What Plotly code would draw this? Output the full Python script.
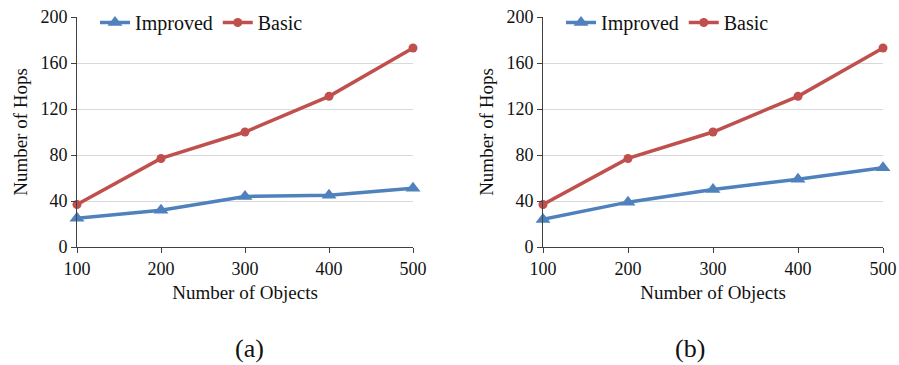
import plotly.graph_objects as go

objects = [100, 200, 300, 400, 500]
improved_a = [25, 32, 44, 45, 51]
basic_a = [37, 77, 100, 131, 173]
improved_b = [24, 39, 50, 59, 69]
basic_b = [37, 77, 100, 131, 173]
y_ticks = [0, 40, 80, 120, 160, 200]
panel_labels = ["(a)", "(b)"]

BLUE = "#4F81BD"
RED = "#C0504D"
FONT = "Liberation Serif, Times New Roman, serif"
TXT = "#111111"

fig = go.Figure()

panels = [
    (improved_a, basic_a, "x", "y", "legend"),
    (improved_b, basic_b, "x2", "y2", "legend2"),
]
for imp, bas, xa, ya, lg in panels:
    fig.add_trace(go.Scatter(x=objects, y=imp, mode="lines+markers", name="Improved",
                             line=dict(color=BLUE, width=3.5),
                             marker=dict(symbol="triangle-up", size=13, color=BLUE),
                             xaxis=xa, yaxis=ya, legend=lg, cliponaxis=False))
    fig.add_trace(go.Scatter(x=objects, y=bas, mode="lines+markers", name="Basic",
                             line=dict(color=RED, width=3.5),
                             marker=dict(symbol="circle", size=9, color=RED),
                             xaxis=xa, yaxis=ya, legend=lg, cliponaxis=False))

H = 365.0
W = 899.0
dom_y = [(H - 247) / H, (H - 17) / H]
xdoms = [[77 / W, 413 / W], [543 / W, 883 / W]]
label_x = [233 / W, 707 / W]

axis_common_x = dict(range=[100, 500], tickvals=objects, showgrid=False, showline=True,
                     linecolor="#404040", linewidth=1, ticks="outside", ticklen=5,
                     tickcolor="#404040", tickfont=dict(family=FONT, size=18, color=TXT),
                     title=dict(text="Number of Objects", font=dict(family=FONT, size=19, color=TXT),
                                standoff=8),
                     zeroline=False, fixedrange=True, automargin=False)
axis_common_y = dict(range=[0, 200], tickvals=y_ticks, showgrid=True, gridcolor="#D9D9D9",
                     showline=True, linecolor="#404040", linewidth=1, ticks="outside",
                     ticklen=5, tickcolor="#404040",
                     tickfont=dict(family=FONT, size=18, color=TXT),
                     title=dict(text="Number of Hops", font=dict(family=FONT, size=19, color=TXT),
                                standoff=7),
                     zeroline=False, fixedrange=True, automargin=False)

fig.update_layout(
    width=899, height=365,
    margin=dict(l=0, r=0, t=0, b=0, autoexpand=False),
    paper_bgcolor="white", plot_bgcolor="white",
    font=dict(family=FONT, size=18, color=TXT),
    xaxis=dict(domain=xdoms[0], anchor="y", **axis_common_x),
    yaxis=dict(domain=dom_y, anchor="x", **axis_common_y),
    xaxis2=dict(domain=xdoms[1], anchor="y2", **axis_common_x),
    yaxis2=dict(domain=dom_y, anchor="x2", **axis_common_y),
    legend=dict(orientation="h", x=95 / W, y=(H - 3) / H, xanchor="left", yanchor="top",
                bgcolor="rgba(0,0,0,0)", font=dict(family=FONT, size=20, color=TXT),
                itemwidth=30, tracegroupgap=0),
    legend2=dict(orientation="h", x=561 / W, y=(H - 3) / H, xanchor="left", yanchor="top",
                 bgcolor="rgba(0,0,0,0)", font=dict(family=FONT, size=20, color=TXT),
                 itemwidth=30, tracegroupgap=0),
    showlegend=True,
)

for i, lab in enumerate(panel_labels):
    fig.add_annotation(text=lab, x=label_x[i], y=(H - 348) / H, xref="paper", yref="paper",
                       yanchor="middle", showarrow=False,
                       font=dict(family=FONT, size=26, color=TXT))

fig.write_html("out.html",
               config={"displayModeBar": False},
               post_script="document.body.style.margin='0px';document.body.style.overflow='hidden';")
